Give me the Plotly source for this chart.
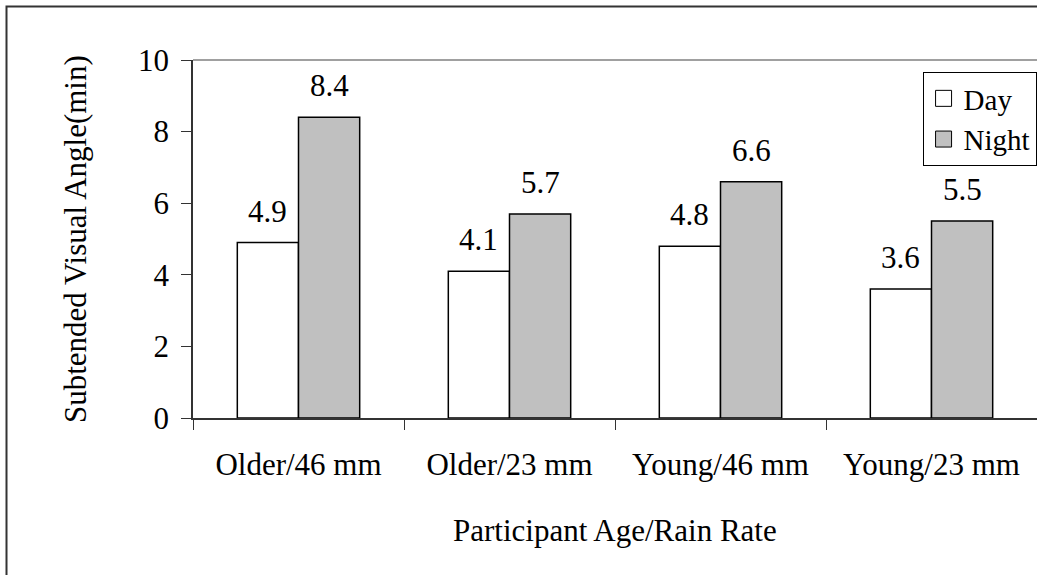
import plotly.graph_objects as go

categories = ["Older/46 mm", "Older/23 mm", "Young/46 mm", "Young/23 mm"]
day = [4.9, 4.1, 4.8, 3.6]
night = [8.4, 5.7, 6.6, 5.5]
series_names = ["Day", "Night"]
y_ticks = [0, 2, 4, 6, 8, 10]

FONT = "Times New Roman"
FS = 31
W, H = 1037, 575
L, R, T, B = 193, 0, 60, 157
pw, ph = W - L - R, H - T - B

fig = go.Figure()
fig.add_trace(go.Bar(x=categories, y=day, name=series_names[0], showlegend=False,
                     marker=dict(color="white", line=dict(color="black", width=1.5))))
fig.add_trace(go.Bar(x=categories, y=night, name=series_names[1], showlegend=False,
                     marker=dict(color="#C0C0C0", line=dict(color="black", width=1.5))))
# legend entries
fig.add_trace(go.Scatter(x=[None], y=[None], mode="markers", name=series_names[0],
                         marker=dict(symbol="square", size=18, color="white",
                                     line=dict(color="black", width=1))))
fig.add_trace(go.Scatter(x=[None], y=[None], mode="markers", name=series_names[1],
                         marker=dict(symbol="square", size=18, color="#C0C0C0",
                                     line=dict(color="black", width=1))))

bar_px = pw / len(categories) * 0.58 / 2
for vals, sh in ((day, -bar_px / 2), (night, bar_px / 2)):
    for c, v in zip(categories, vals):
        fig.add_annotation(x=c, y=v, xref="x", yref="y", text=f"{v:.1f}",
                           showarrow=False, xanchor="center", yanchor="bottom",
                           xshift=sh, yshift=12,
                           font=dict(family=FONT, size=FS, color="black"))

# axis titles
fig.add_annotation(x=(75 - L) / pw, y=0.5, xref="paper", yref="paper",
                   text="Subtended Visual Angle(min)", textangle=-90, showarrow=False,
                   xanchor="center", yanchor="middle",
                   font=dict(family=FONT, size=FS, color="black"))
fig.add_annotation(x=0.5, y=(418 - 530) / ph, xref="paper", yref="paper",
                   text="Participant Age/Rain Rate", showarrow=False,
                   xanchor="center", yanchor="middle",
                   font=dict(family=FONT, size=FS, color="black"))

# top border of plot area
fig.add_shape(type="line", xref="paper", yref="paper", x0=0, x1=1, y0=1, y1=1,
              line=dict(color="#808080", width=1.5))
# outer chart border
fig.add_shape(type="rect", xref="paper", yref="paper",
              x0=(6.5 - L) / pw, x1=1.2, y0=-1.0, y1=(418 - 6.5) / ph,
              line=dict(color="#333333", width=2))

fig.update_layout(
    width=W, height=H,
    margin=dict(l=L, r=R, t=T, b=B, pad=0, autoexpand=False),
    paper_bgcolor="white", plot_bgcolor="white",
    barmode="group", bargap=0.42, bargroupgap=0,
    font=dict(family=FONT, size=FS, color="black"),
    legend=dict(x=0.9995, y=(418 - 72) / ph, xanchor="right", yanchor="top",
                bgcolor="white", bordercolor="black", borderwidth=1,
                font=dict(family=FONT, size=29, color="black"),
                itemwidth=30, tracegroupgap=0),
    xaxis=dict(type="category", showline=True, linecolor="#333333", linewidth=1.5,
               ticks="outside", ticklen=10, tickcolor="#333333", tickson="boundaries",
               ticklabelstandoff=18, showgrid=False, zeroline=False,
               tickfont=dict(family=FONT, size=FS, color="black")),
    yaxis=dict(range=[0, 10], tickvals=y_ticks, showline=True, linecolor="#333333",
               linewidth=1.5, ticks="outside", ticklen=10, tickcolor="#333333",
               ticklabelstandoff=6, showgrid=False, zeroline=False,
               tickfont=dict(family=FONT, size=FS, color="black")),
)

fig.write_html("out.html")
